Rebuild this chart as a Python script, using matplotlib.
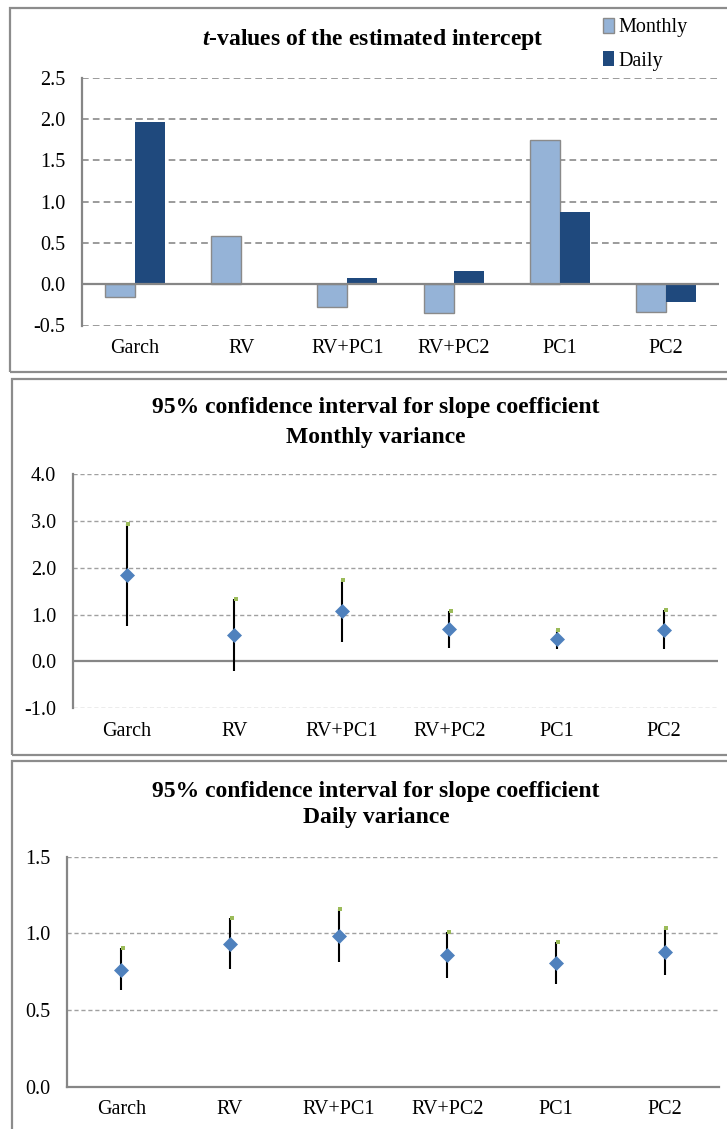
import matplotlib
matplotlib.use('Agg')
import matplotlib.pyplot as plt
import matplotlib.transforms as mtransforms
from matplotlib.patches import Rectangle
import numpy as np

plt.rcParams['font.family'] = ['Liberation Serif', 'DejaVu Serif']
plt.rcParams['mathtext.fontset'] = 'custom'
plt.rcParams['mathtext.it'] = 'Liberation Serif:italic:bold'
plt.rcParams['mathtext.rm'] = 'Liberation Serif:bold'

# data
models = ['Garch', 'RV', 'RV+PC1', 'RV+PC2', 'PC1', 'PC2']
t_monthly = [-0.15, 0.58, -0.28, -0.35, 1.75, -0.34]
t_daily = [1.96, 0.0, 0.07, 0.16, 0.88, -0.22]

m_mid = [1.84, 0.56, 1.07, 0.69, 0.47, 0.68]
m_hi = [2.93, 1.34, 1.74, 1.08, 0.68, 1.09]
m_lo = [0.75, -0.21, 0.41, 0.29, 0.27, 0.27]

d_mid = [0.763, 0.933, 0.985, 0.857, 0.804, 0.880]
d_hi = [0.907, 1.100, 1.159, 1.007, 0.943, 1.037]
d_lo = [0.630, 0.770, 0.815, 0.711, 0.667, 0.728]

W, H = 727, 1129
fig = plt.figure(figsize=(W / 100, H / 100), dpi=100)

GRAY = '#868686'
TICK_FS = 14.5
TITLE_FS = 17


def px_axes(left, right, top, bottom):
    return fig.add_axes([left / W, 1 - bottom / H, (right - left) / W, (bottom - top) / H])


def frame(left, top, bottom):
    fig.patches.append(Rectangle((left / W, 1 - bottom / H), (740 - left) / W, (bottom - top) / H,
                                 transform=fig.transFigure, fill=False, edgecolor='#8c8c8c',
                                 linewidth=1.6))


def style(ax, ymin, ymax, step, dash, gcol, glw, bottom_solid=False):
    ax.set_xlim(-0.5, len(models) - 0.5)
    ax.set_ylim(ymin, ymax)
    ticks = np.arange(ymin, ymax + step / 2, step)
    ax.set_yticks(ticks)
    ax.set_yticklabels(['%.1f' % v for v in ticks], fontsize=TICK_FS)
    ax.set_xticks(range(len(models)))
    ax.set_xticklabels(models, fontsize=TICK_FS)
    ax.tick_params(length=0)
    ax.tick_params(axis='y', pad=12)
    ax.tick_params(axis='x', pad=10)
    for s in ['top', 'right']:
        ax.spines[s].set_visible(False)
    ax.spines['left'].set_color(GRAY)
    ax.spines['left'].set_linewidth(1.6)
    if bottom_solid:
        ax.spines['bottom'].set_color(GRAY)
        ax.spines['bottom'].set_linewidth(1.6)
        gl = ticks[1:]
    else:
        ax.spines['bottom'].set_visible(False)
        gl = [v for v in ticks if abs(v) > 1e-9]
        ax.axhline(0, color=GRAY, linewidth=1.6, zorder=3)
    for v in gl:
        ax.axhline(v, color=gcol, linewidth=glw, linestyle=(0, dash), zorder=0)


# ---- panel 1: t-values
frame(10, 7.5, 371.5)
ax1 = px_axes(82, 719, 77.7, 325.5)
style(ax1, -0.5, 2.5, 0.5, (4, 2.5), '#8a8a8a', 1.2)
x = np.arange(len(models))
bw = 0.283
ax1.bar(x - bw / 2, t_monthly, bw, color='#95B3D7', edgecolor='#8a8a8a', linewidth=1.0,
        label='Monthly', zorder=2)
ax1.bar(x + bw / 2, t_daily, bw, color='#1F497D', linewidth=0,
        label='Daily', zorder=2)
fig.text(373 / W, 1 - 40 / H, r'$t$-values of the estimated intercept', ha='center', va='center',
         fontsize=TITLE_FS, fontweight='bold')
fig.legend(loc='upper left', bbox_to_anchor=(603 / W, 1 - 18 / H), frameon=False,
           fontsize=14.5, handlelength=0.55, handleheight=0.75, handletextpad=0.2,
           labelspacing=0.7, borderaxespad=0, borderpad=0)


def ci_panel(ax, mid, hi, lo):
    ax.vlines(x, lo, hi, color='black', linewidth=1.5, zorder=3)
    off = mtransforms.ScaledTranslation(1.5 / 100, 0, fig.dpi_scale_trans)
    ax.plot(x, hi, linestyle='none', marker='s', markersize=2.6, color='#9BBB59',
            markeredgewidth=0, transform=ax.transData + off, zorder=4)
    ax.plot(x, mid, linestyle='none', marker='D', markersize=6.8, color='#4F81BD',
            markeredgecolor='#4F81BD', markeredgewidth=0.5, zorder=5)


# ---- panel 2: monthly variance
frame(11.5, 379, 755)
ax2 = px_axes(73, 718, 474, 708.3)
style(ax2, -1.0, 4.0, 1.0, (3, 2), '#a0a0a0', 1.0)
ci_panel(ax2, m_mid, m_hi, m_lo)
fig.text(376 / W, 1 - 408 / H, '95% confidence interval for slope coefficient', ha='center',
         va='center', fontsize=TITLE_FS, fontweight='bold')
fig.text(376 / W, 1 - 437 / H, 'Monthly variance', ha='center', va='center', fontsize=TITLE_FS,
         fontweight='bold')

# ---- panel 3: daily variance
frame(12, 760.7, 1150)
ax3 = px_axes(67, 719, 856.7, 1086.5)
style(ax3, 0.0, 1.5, 0.5, (3, 2), '#a0a0a0', 1.0, bottom_solid=True)
ci_panel(ax3, d_mid, d_hi, d_lo)
fig.text(376 / W, 1 - 792 / H, '95% confidence interval for slope coefficient', ha='center',
         va='center', fontsize=TITLE_FS, fontweight='bold')
fig.text(376 / W, 1 - 818 / H, 'Daily variance', ha='center', va='center', fontsize=TITLE_FS,
         fontweight='bold')

fig.savefig('out.png', dpi=100)
